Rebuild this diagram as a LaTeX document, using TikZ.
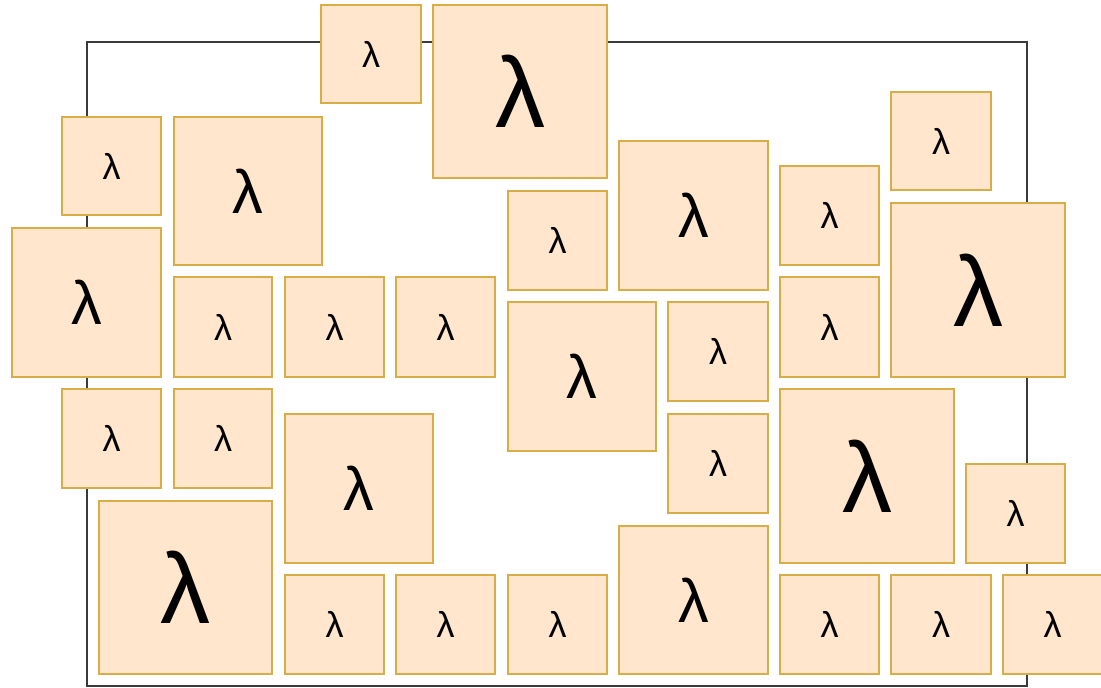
\documentclass[tikz,border=0pt]{standalone}
\usepackage{fontspec}
\setmainfont{Liberation Sans}
\definecolor{boxfill}{HTML}{FFE6CC}
\definecolor{boxline}{HTML}{D8AD48}
\definecolor{frameline}{HTML}{3A3A3A}
\newcommand\bx[6]{%
  \node[lbox, font=#6, minimum width={(#4-#2)*0.75pt}, minimum height={(#5-#3)*0.75pt}]
    (#1) at ({(#2+#4)/2},{(#3+#5)/2}) {λ};}
\tikzset{
  lbox/.style={draw=boxline, fill=boxfill, line width=0.9pt, inner sep=0pt, outer sep=0pt, text=black},
  frame/.style={draw=frameline, line width=0.8pt, inner sep=0pt, outer sep=0pt},
}
\newcommand\sm{\fontsize{27}{30}\selectfont}
\newcommand\md{\fontsize{46}{50}\selectfont}
\newcommand\bg{\fontsize{75}{80}\selectfont}
\begin{document}
\begin{tikzpicture}[x=0.75pt, y=-0.75pt]
\useasboundingbox (0,0) rectangle (1101,687);
\fill[white] (0,0) rectangle (1101,687);
\node[frame, minimum width={(1027-87)*0.75pt}, minimum height={(686-42)*0.75pt}] (frame) at ({(87+1027)/2},{(42+686)/2}) {};
\bx{b1}{321}{5}{421}{103}{\sm}
\bx{b2}{433}{5}{607}{178}{\bg}
\bx{b3}{62}{117}{161}{215}{\sm}
\bx{b4}{174}{117}{322}{265}{\md}
\bx{b5}{891}{92}{991}{190}{\sm}
\bx{b6}{619}{141}{768}{290}{\md}
\bx{b7}{780}{166}{879}{265}{\sm}
\bx{b8}{508}{191}{607}{290}{\sm}
\bx{b9}{12}{228}{161}{377}{\md}
\bx{b10}{891}{203}{1065}{377}{\bg}
\bx{b11}{174}{277}{272}{377}{\sm}
\bx{b12}{285}{277}{384}{377}{\sm}
\bx{b13}{396}{277}{495}{377}{\sm}
\bx{b14}{508}{302}{656}{451}{\md}
\bx{b15}{668}{302}{768}{401}{\sm}
\bx{b16}{780}{277}{879}{377}{\sm}
\bx{b17}{62}{389}{161}{488}{\sm}
\bx{b18}{174}{389}{272}{488}{\sm}
\bx{b19}{285}{414}{433}{563}{\md}
\bx{b20}{668}{414}{768}{513}{\sm}
\bx{b21}{780}{389}{954}{563}{\bg}
\bx{b22}{966}{464}{1065}{563}{\sm}
\bx{b23}{99}{501}{272}{674}{\bg}
\bx{b24}{285}{575}{384}{674}{\sm}
\bx{b25}{396}{575}{495}{674}{\sm}
\bx{b26}{508}{575}{607}{674}{\sm}
\bx{b27}{619}{526}{768}{674}{\md}
\bx{b28}{780}{575}{879}{674}{\sm}
\bx{b29}{891}{575}{991}{674}{\sm}
\bx{b30}{1003}{575}{1102}{674}{\sm}
\end{tikzpicture}
\end{document}
